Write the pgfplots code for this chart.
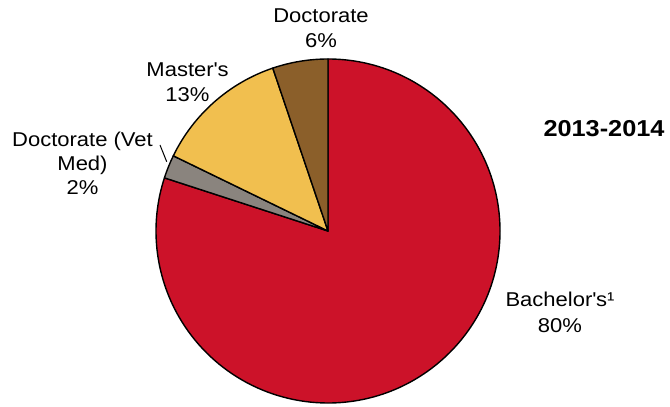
\documentclass[border=0pt]{standalone}
\usepackage{pgfplots}
\pgfplotsset{compat=1.18}
\usepackage{pgfplotstable}
\usepackage{fontspec}
\setmainfont{Liberation Sans}[FakeStretch=1.1]
\definecolor{cRed}{HTML}{CC1229}
\definecolor{cGray}{HTML}{8A847E}
\definecolor{cYel}{HTML}{F1BF4F}
\definecolor{cBrown}{HTML}{8B5F2A}
\pgfplotstableread{
label value color
Bachelors 80.0 cRed
VetMed 2.2 cGray
Masters 12.6 cYel
Doctorate 5.2 cBrown
}\piedata
\begin{document}
\begin{tikzpicture}[lbl/.style={anchor=base, inner sep=0, font=\fontsize{20bp}{24bp}\selectfont}]
\begin{axis}[
  scale only axis, width=670bp, height=406bp,
  xmin=0, xmax=670, ymin=0, ymax=406,
  hide axis, clip=false,
]
\def\cum{90}
\pgfplotsforeachungrouped \i in {0,...,3}{
  \pgfplotstablegetelem{\i}{value}\of\piedata \let\v\pgfplotsretval
  \pgfplotstablegetelem{\i}{color}\of\piedata \let\c\pgfplotsretval
  \pgfmathsetmacro\endang{\cum-3.6*\v}
  \edef\cmd{\noexpand\fill[fill=\c, draw=black, line width=1.4bp, line join=round]
    (axis cs:328,175) -- ++(\cum:172bp) arc[start angle=\cum, end angle=\endang, radius=172bp] -- cycle;}
  \cmd
  \global\let\cum\endang
}
\draw[line width=1bp] (axis cs:160,261) -- (axis cs:166.7,244.3);
\node[lbl] at (axis cs:321,383) {Doctorate};
\node[lbl] at (axis cs:321,358) {6\%};
\node[lbl] at (axis cs:187.5,329) {Master\textquotesingle s};
\node[lbl] at (axis cs:187.5,304.5) {13\%};
\node[lbl] at (axis cs:82.5,259.5) {Doctorate (Vet};
\node[lbl] at (axis cs:82.5,235) {Med)};
\node[lbl] at (axis cs:82.5,211) {2\%};
\node[lbl] at (axis cs:560,99.5) {Bachelor\textquotesingle s¹};
\node[lbl] at (axis cs:560,73.5) {80\%};
\node[anchor=base, inner sep=0, font=\bfseries\fontsize{23bp}{27bp}\selectfont] at (axis cs:604,269.5) {2013-2014};
\end{axis}
\pgfresetboundingbox
\path (current axis.south west) rectangle (current axis.north east);
\end{tikzpicture}
\end{document}
